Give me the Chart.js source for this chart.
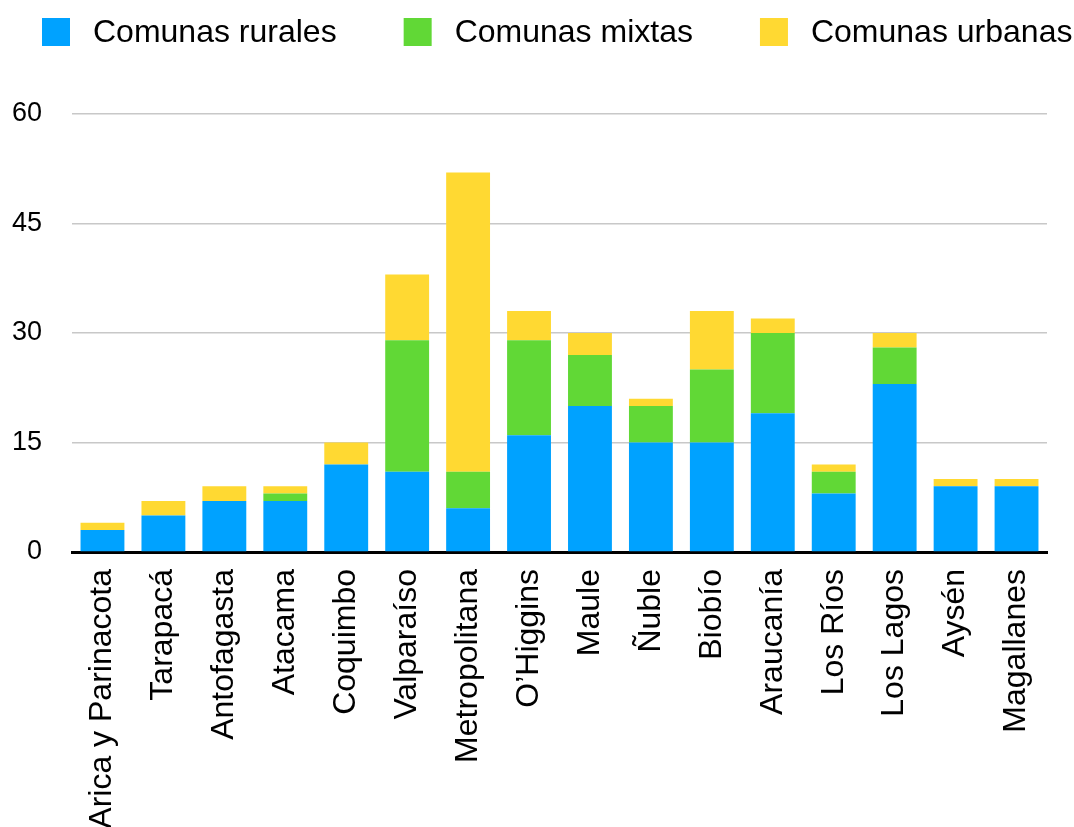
<!DOCTYPE html>
<html>
<head>
<meta charset="utf-8">
<script src="https://cdn.jsdelivr.net/npm/chart.js@4/dist/chart.umd.min.js"></script>
<style>
  html, body { margin: 0; padding: 0; background: #ffffff; }
  #wrap { width: 1074px; height: 827px; position: relative; }
</style>
</head>
<body>
<div id="wrap"><canvas id="chart" width="1074" height="827"></canvas></div>
<script>
// Regiones de Chile y número de comunas por tipo
const regiones = ['Arica y Parinacota', 'Tarapacá', 'Antofagasta', 'Atacama', 'Coquimbo',
  'Valparaíso', 'Metropolitana', 'O\u2019Higgins', 'Maule', 'Ñuble', 'Biobío',
  'Araucanía', 'Los Ríos', 'Los Lagos', 'Aysén', 'Magallanes'];
const comunasRurales  = [3, 5, 7, 7, 12, 11, 6, 16, 20, 15, 15, 19, 8, 23, 9, 9];
const comunasMixtas   = [0, 0, 0, 1, 0, 18, 5, 13, 7, 5, 10, 11, 3, 5, 0, 0];
const comunasUrbanas  = [1, 2, 2, 1, 3, 9, 41, 4, 3, 1, 8, 2, 1, 2, 1, 1];
const yTicks = [0, 15, 30, 45, 60];

const FONT = '"Liberation Sans", Arial, Helvetica, sans-serif';

// Leyenda dibujada a mano: cuadro de color + texto, alineada a la izquierda
const customLegend = {
  id: 'customLegend',
  afterDraw(chart) {
    const ctx = chart.ctx;
    ctx.save();
    ctx.font = '32px ' + FONT;
    ctx.textBaseline = 'middle';
    ctx.textAlign = 'left';
    let x = 42;
    const y = 18, box = 28, gapText = 23, gapItem = 67;
    chart.data.datasets.forEach(ds => {
      ctx.fillStyle = ds.backgroundColor;
      ctx.fillRect(x, y, box, box);
      ctx.fillStyle = '#000000';
      ctx.fillText(ds.label, x + box + gapText, y + box / 2 + 1);
      x += box + gapText + ctx.measureText(ds.label).width + gapItem;
    });
    ctx.restore();
  }
};

new Chart(document.getElementById('chart'), {
  type: 'bar',
  data: {
    labels: regiones,
    datasets: [
      { label: 'Comunas rurales', data: comunasRurales, backgroundColor: '#00A2FF' },
      { label: 'Comunas mixtas',  data: comunasMixtas,  backgroundColor: '#61D836' },
      { label: 'Comunas urbanas', data: comunasUrbanas, backgroundColor: '#FFD932' }
    ]
  },
  options: {
    responsive: false,
    animation: false,
    layout: { padding: { top: 114, right: 27, left: 0, bottom: 0 } },
    datasets: { bar: { categoryPercentage: 1.0, barPercentage: 0.72, borderWidth: 0 } },
    plugins: {
      legend: { display: false },
      tooltip: { enabled: false }
    },
    scales: {
      x: {
        stacked: true,
        grid: { display: false, drawTicks: false },
        border: { display: true, color: '#000000', width: 3 },
        ticks: {
          autoSkip: false,
          minRotation: 90,
          maxRotation: 90,
          padding: 17,
          color: '#000000',
          font: { family: FONT, size: 32 }
        },
        afterFit(scale) { scale.height = 275; }
      },
      y: {
        stacked: true,
        min: 0,
        max: 60,
        afterBuildTicks(scale) { scale.ticks = yTicks.map(v => ({ value: v })); },
        grid: { color: '#c8c8c8', lineWidth: 1.5, drawTicks: false },
        border: { display: false },
        ticks: {
          padding: 30,
          color: '#000000',
          font: { family: FONT, size: 27 }
        },
        afterFit(scale) { scale.width = 72; }
      }
    }
  },
  plugins: [customLegend]
});
</script>
</body>
</html>
